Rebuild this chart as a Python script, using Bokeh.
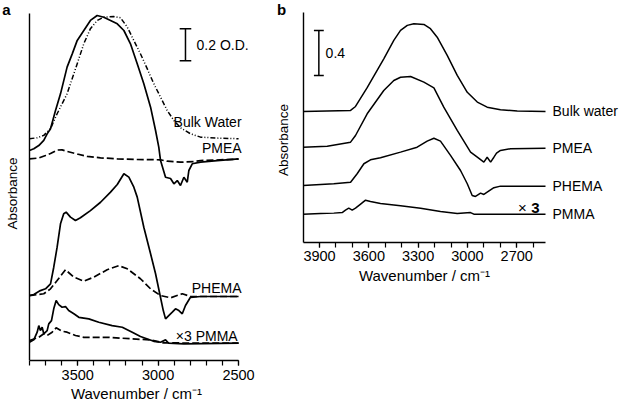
from bokeh.plotting import figure
from bokeh.models import Range1d, FixedTicker, Label
from bokeh.layouts import row
from bokeh.embed import file_html
from bokeh.resources import INLINE

FONT = "Liberation Sans"

# ---------------- Panel a data (wavenumber / cm-1, absorbance / O.D.) ----------------
A_BULK_WN = [3800, 3752, 3711, 3669, 3628, 3566, 3503, 3462, 3421, 3379, 3338, 3276, 3234,
             3192, 3151, 3110, 3068, 3027, 2985, 2944, 2902, 2861, 2799, 2736, 2633, 2500]
A_BULK = [0, 0.006, 0.021, 0.063, 0.156, 0.281, 0.469, 0.594, 0.688, 0.739, 0.760, 0.764, 0.756,
          0.698, 0.614, 0.531, 0.438, 0.344, 0.260, 0.177, 0.114, 0.069, 0.031, 0.010, 0.004, 0]

A_PMEA_WN = [3800, 3773, 3742, 3711, 3690, 3669, 3638, 3607, 3566, 3534, 3503, 3462, 3421, 3379,
             3338, 3296, 3254, 3213, 3172, 3130, 3089, 3047, 3016, 2996, 2985, 2954, 2923, 2902,
             2881, 2861, 2840, 2819, 2809, 2788, 2736, 2633, 2500]
A_PMEA = [0.050, 0.061, 0.081, 0.113, 0.154, 0.186, 0.300, 0.404, 0.571, 0.654, 0.738, 0.800,
          0.863, 0.894, 0.883, 0.863, 0.842, 0.800, 0.717, 0.592, 0.467, 0.321, 0.175, 0.071,
          -0.013, -0.117, -0.125, -0.158, -0.138, -0.169, -0.117, -0.148, -0.075, -0.033,
          -0.023, -0.013, -0.002]
A_PMEA_D_WN = [3800, 3742, 3700, 3669, 3628, 3597, 3566, 3503, 3441, 3358, 3254, 3151, 2985,
               2944, 2861, 2778, 2736, 2500]
A_PMEA_D = [-0.002, 0.003, 0.019, 0.031, 0.053, 0.054, 0.044, 0.028, 0.013, 0.004, -0.002,
            -0.006, -0.008, -0.017, -0.023, -0.019, -0.013, -0.004]

A_PHEMA_WN = [3800, 3773, 3732, 3700, 3669, 3649, 3628, 3607, 3587, 3572, 3545, 3514, 3483,
              3421, 3358, 3296, 3254, 3213, 3182, 3151, 3130, 3089, 3047, 3016, 2990, 2968,
              2954, 2934, 2912, 2892, 2871, 2850, 2830, 2799, 2736, 2500]
A_PHEMA = [0.003, 0.009, 0.034, 0.045, 0.076, 0.180, 0.305, 0.451, 0.514, 0.524, 0.493, 0.472,
           0.489, 0.534, 0.586, 0.649, 0.697, 0.764, 0.743, 0.680, 0.618, 0.430, 0.264, 0.139,
           0.014, -0.091, -0.143, -0.122, -0.101, -0.080, -0.091, -0.111, -0.059, -0.008,
           -0.003, -0.003]
A_PHEMA_D_WN = [3800, 3711, 3669, 3628, 3576, 3524, 3462, 3400, 3317, 3245, 3192, 3110, 3047,
                2985, 2923, 2850, 2799, 2500]
A_PHEMA_D = [0.003, 0.014, 0.045, 0.097, 0.164, 0.118, 0.093, 0.118, 0.164, 0.190, 0.170,
             0.108, 0.045, 0.003, -0.011, 0.014, -0.003, -0.003]

A_PMMA_WN = [3800, 3773, 3752, 3742, 3732, 3721, 3711, 3690, 3680, 3663, 3649, 3634, 3618,
             3597, 3576, 3556, 3524, 3493, 3431, 3369, 3286, 3223, 3161, 3110, 3027, 2985,
             2954, 2934, 2840, 2500]
A_PMMA = [0.005, 0.020, 0.068, 0.109, 0.078, 0.099, 0.058, 0.078, 0.120, 0.140, 0.214, 0.266,
          0.240, 0.224, 0.228, 0.203, 0.183, 0.161, 0.151, 0.130, 0.109, 0.099, 0.068, 0.041,
          0.011, 0.005, 0.020, -0.001, -0.005, -0.001]
A_PMMA_D_WN = [3800, 3742, 3711, 3690, 3659, 3634, 3597, 3566, 3514, 3462, 3307, 3161, 3047,
               2965, 2500]
A_PMMA_D = [0.016, 0.036, 0.058, 0.047, 0.068, 0.095, 0.074, 0.068, 0.047, 0.036, 0.036,
            0.026, 0.020, 0.001, -0.001]

A_LABELS = ["Bulk Water", "PMEA", "PHEMA", "\u00d73  PMMA"]
A_OFFSETS = [1.386, 1.2625, 0.403, 0.109]
A_LABEL_Y = [1.489, 1.331, 0.455, 0.156]
A_TICKS = [3500, 3000, 2500]
A_XLIM = (2500, 3800)
A_YLIM = (0, 2.169)
A_SCALE = 0.2

# ---------------- Panel b data ----------------
B_BULK_WN = [4000, 3711, 3681, 3610, 3509, 3448, 3407, 3366, 3326, 3265, 3225, 3184, 3123,
             3062, 3001, 2940, 2880, 2799, 2697, 2525]
B_BULK = [0, 0.009, 0.044, 0.211, 0.468, 0.631, 0.720, 0.765, 0.780, 0.773, 0.735, 0.660,
          0.498, 0.320, 0.170, 0.083, 0.038, 0.015, 0.003, 0]
B_PMEA_WN = [4000, 3853, 3711, 3681, 3610, 3509, 3448, 3407, 3346, 3265, 3204, 3144, 3062,
             2981, 2940, 2900, 2880, 2859, 2839, 2823, 2799, 2738, 2525]
B_PMEA = [0.007, 0.016, 0.052, 0.111, 0.304, 0.511, 0.600, 0.629, 0.636, 0.585, 0.535, 0.363,
          0.156, -0.037, -0.082, -0.126, -0.082, -0.126, -0.082, -0.046, -0.022, -0.007, -0.002]
B_PHEMA_WN = [4000, 3813, 3711, 3671, 3630, 3590, 3529, 3407, 3306, 3245, 3204, 3164, 3103,
              3042, 3001, 2971, 2951, 2920, 2900, 2880, 2839, 2799, 2525]
B_PHEMA = [0, 0.015, 0.029, 0.104, 0.193, 0.228, 0.246, 0.296, 0.340, 0.394, 0.420, 0.394,
           0.267, 0.133, 0.015, -0.089, -0.098, -0.068, -0.080, -0.060, -0.020, -0.006, -0.006]
B_PMMA_WN = [4000, 3894, 3813, 3762, 3742, 3722, 3701, 3681, 3650, 3620, 3590, 3529, 3407,
             3285, 3164, 3062, 2981, 2961, 2525]
B_PMMA = [0, 0.005, 0.009, 0.014, 0.036, 0.053, 0.036, 0.053, 0.089, 0.124, 0.112, 0.094,
          0.074, 0.053, 0.023, 0.005, 0.014, 0, 0]

B_LABELS = ["Bulk water", "PMEA", "PHEMA", "PMMA"]
B_OFFSETS = [1.165, 0.840, 0.507, 0.252]
B_TICKS = [3900, 3600, 3300, 3000, 2700]
B_XLIM = (2525, 4000)
B_YLIM = (0, 2.045)
B_SCALE = 0.4


def base_fig(width, xr, yr, ticks, minor, xlim, ylim, x_at=None, y_at=None):
    p = figure(width=width, height=405, x_range=xr, y_range=yr,
               output_backend="svg", toolbar_location=None,
               min_border_left=0, min_border_right=0, min_border_top=0, min_border_bottom=45)
    p.outline_line_color = None
    p.grid.visible = False
    p.background_fill_color = "white"
    p.border_fill_color = "white"
    xa = p.xaxis[0]
    xa.ticker = FixedTicker(ticks=ticks, minor_ticks=minor)
    xa.bounds = xlim
    if x_at is not None:
        xa.fixed_location = x_at
    xa.major_tick_out = 5
    xa.major_tick_in = 0
    xa.minor_tick_out = 5
    xa.minor_tick_in = 0
    xa.axis_line_width = 1.4
    xa.major_tick_line_width = 1.2
    xa.minor_tick_line_width = 1.2
    xa.major_label_text_font = FONT
    xa.major_label_text_font_size = "14.5px"
    xa.major_label_text_color = "black"
    xa.major_label_standoff = 4
    xa.axis_label = "Wavenumber / cm\u207b\u00b9"
    xa.axis_label_text_font = FONT
    xa.axis_label_text_font_size = "15px"
    xa.axis_label_text_font_style = "normal"
    xa.axis_label_text_color = "black"
    xa.axis_label_standoff = 2
    ya = p.yaxis[0]
    ya.ticker = FixedTicker(ticks=[])
    ya.bounds = ylim
    ya.fixed_location = y_at
    ya.major_tick_out = 0
    ya.major_tick_in = 0
    ya.minor_tick_out = 0
    ya.minor_tick_in = 0
    ya.major_label_standoff = 0
    ya.major_label_text_font_size = "0px"
    ya.axis_line_width = 1.4
    return p


def text(p, x, y, s, align="left", size="14px", style="normal", angle=0.0, xoff=0):
    p.add_layout(Label(x=x, y=y, text=s, text_align=align, text_baseline="middle",
                       text_font=FONT, text_font_size=size, text_font_style=style,
                       text_color="black", angle=angle, x_offset=xoff))


# ---------------- Panel a ----------------
pa = base_fig(272, Range1d(3980, 2289), Range1d(0, 2.25), A_TICKS,
              list(range(2500, 3801, 100)), A_XLIM, A_YLIM, y_at=A_XLIM[1])

sol = dict(line_color="black", line_width=1.7)
pa.line(A_BULK_WN, [v + A_OFFSETS[0] for v in A_BULK], line_color="black", line_width=1.5,
        line_dash="5 2 1 2 1 2")
pa.line(A_PMEA_WN, [v + A_OFFSETS[1] for v in A_PMEA], **sol)
pa.line(A_PMEA_D_WN, [v + A_OFFSETS[1] for v in A_PMEA_D], line_dash="7 3", **sol)
pa.line(A_PHEMA_WN, [v + A_OFFSETS[2] for v in A_PHEMA], **sol)
pa.line(A_PHEMA_D_WN, [v + A_OFFSETS[2] for v in A_PHEMA_D], line_dash="7 3", **sol)
pa.line(A_PMMA_WN, [v + A_OFFSETS[3] for v in A_PMMA], **sol)
pa.line(A_PMMA_D_WN, [v + A_OFFSETS[3] for v in A_PMMA_D], line_dash="7 3", **sol)

for lab, ly in zip(A_LABELS, A_LABEL_Y):
    text(pa, A_XLIM[0], ly, lab, align="right", xoff=3)

# scale bar (0.2 O.D.)
sa_x, sa_top = 2830, 2.073
pa.segment(x0=[sa_x, sa_x - 36, sa_x - 36], y0=[sa_top, sa_top, sa_top - A_SCALE],
           x1=[sa_x, sa_x + 36, sa_x + 36], y1=[sa_top - A_SCALE, sa_top, sa_top - A_SCALE],
           line_color="black", line_width=1.5)
text(pa, 2761, sa_top - A_SCALE / 2, "%.1f O.D." % A_SCALE)

text(pa, 3908, 1.044, "Absorbance", align="center", size="13.5px", angle=1.5708)
text(pa, 3943, 2.194, "a", align="center", size="15px", style="bold")

# ---------------- Panel b ----------------
pb = base_fig(357, Range1d(4186, 2014), Range1d(-1.049, 2.151), B_TICKS,
              list(range(2600, 3901, 100)), B_XLIM, B_YLIM, x_at=0, y_at=B_XLIM[1])

solb = dict(line_color="black", line_width=1.5)
for wn, vals, off in zip([B_BULK_WN, B_PMEA_WN, B_PHEMA_WN, B_PMMA_WN],
                         [B_BULK, B_PMEA, B_PHEMA, B_PMMA], B_OFFSETS):
    pb.line(wn, [v + off for v in vals], **solb)

for lab, vals, off in zip(B_LABELS, [B_BULK, B_PMEA, B_PHEMA, B_PMMA], B_OFFSETS):
    text(pb, B_XLIM[0], off + vals[-1], lab, align="left", xoff=7)

text(pb, 2665, 0.311, "\u00d7", align="center", size="15px")
text(pb, 2586, 0.311, "3", align="center", size="15px", style="bold")

sb_x, sb_top = 3904, 1.885
pb.segment(x0=[sb_x, sb_x - 30, sb_x - 30], y0=[sb_top, sb_top, sb_top - B_SCALE],
           x1=[sb_x, sb_x + 30, sb_x + 30], y1=[sb_top - B_SCALE, sb_top, sb_top - B_SCALE],
           line_color="black", line_width=1.5)
text(pb, 3863, sb_top - B_SCALE / 2, "%.1f" % B_SCALE)

text(pb, 4119, 0.911, "Absorbance", align="center", size="13.5px", angle=1.5708)
text(pb, 4131, 2.071, "b", align="center", size="15px", style="bold")

layout = row(pa, pb)
open("out.html", "w").write(file_html(layout, INLINE))
